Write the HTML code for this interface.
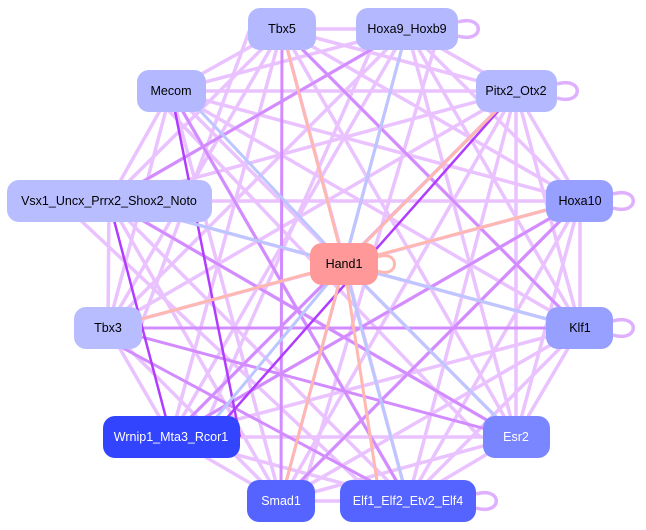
<!DOCTYPE html>
<html><head><meta charset="utf-8"><style>
html,body{margin:0;padding:0;background:#fff;width:646px;height:530px;overflow:hidden}
svg{display:block}
text{font-family:"Liberation Sans",sans-serif;font-size:12.5px;text-anchor:middle;dominant-baseline:central}
</style></head><body>
<svg width="646" height="530" viewBox="0 0 646 530">
<g stroke="#e9c2ff" stroke-width="3.5" fill="none">
<line x1="282" y1="29" x2="171" y2="91"/><line x1="282" y1="29" x2="109" y2="201"/><line x1="282" y1="29" x2="108" y2="328"/><line x1="282" y1="29" x2="516" y2="91"/><line x1="282" y1="29" x2="407" y2="29"/><line x1="282" y1="29" x2="580" y2="201"/><line x1="282" y1="29" x2="580" y2="328"/><line x1="282" y1="29" x2="516" y2="437"/><line x1="282" y1="29" x2="408" y2="501"/><line x1="282" y1="29" x2="171" y2="437"/>
<line x1="407" y1="29" x2="171" y2="91"/><line x1="407" y1="29" x2="109" y2="201"/><line x1="407" y1="29" x2="516" y2="91"/><line x1="407" y1="29" x2="108" y2="328"/><line x1="407" y1="29" x2="171" y2="437"/><line x1="407" y1="29" x2="516" y2="437"/><line x1="407" y1="29" x2="580" y2="328"/><line x1="407" y1="29" x2="580" y2="201"/>
<line x1="171" y1="91" x2="516" y2="91"/><line x1="171" y1="91" x2="109" y2="201"/><line x1="171" y1="91" x2="580" y2="201"/><line x1="171" y1="91" x2="580" y2="328"/><line x1="171" y1="91" x2="516" y2="437"/><line x1="171" y1="91" x2="408" y2="501"/><line x1="171" y1="91" x2="281" y2="501"/><line x1="171" y1="91" x2="108" y2="328"/>
<line x1="516" y1="91" x2="109" y2="201"/><line x1="516" y1="91" x2="580" y2="201"/><line x1="516" y1="91" x2="108" y2="328"/><line x1="516" y1="91" x2="171" y2="437"/><line x1="516" y1="91" x2="281" y2="501"/><line x1="516" y1="91" x2="408" y2="501"/><line x1="516" y1="91" x2="516" y2="437"/><line x1="516" y1="91" x2="580" y2="328"/>
<line x1="109" y1="201" x2="580" y2="201"/><line x1="109" y1="201" x2="580" y2="328"/><line x1="109" y1="201" x2="516" y2="437"/><line x1="109" y1="201" x2="408" y2="501"/><line x1="109" y1="201" x2="281" y2="501"/><line x1="109" y1="201" x2="108" y2="328"/>
<line x1="580" y1="201" x2="108" y2="328"/><line x1="580" y1="201" x2="171" y2="437"/><line x1="580" y1="201" x2="281" y2="501"/><line x1="580" y1="201" x2="408" y2="501"/><line x1="580" y1="201" x2="580" y2="328"/><line x1="580" y1="201" x2="516" y2="437"/>
<line x1="108" y1="328" x2="171" y2="437"/><line x1="108" y1="328" x2="281" y2="501"/><line x1="580" y1="328" x2="171" y2="437"/><line x1="580" y1="328" x2="281" y2="501"/><line x1="580" y1="328" x2="408" y2="501"/><line x1="580" y1="328" x2="516" y2="437"/>
<line x1="171" y1="437" x2="516" y2="437"/><line x1="171" y1="437" x2="281" y2="501"/><line x1="171" y1="437" x2="408" y2="501"/><line x1="516" y1="437" x2="408" y2="501"/><line x1="516" y1="437" x2="281" y2="501"/><line x1="281" y1="501" x2="408" y2="501"/>
<line x1="250" y1="29" x2="140" y2="328"/><line x1="380" y1="29" x2="200" y2="437"/><line x1="440" y1="29" x2="300" y2="501"/><line x1="150" y1="91" x2="480" y2="437"/><line x1="60" y1="201" x2="380" y2="501"/>
</g>
<g stroke="#d38cff" stroke-width="3" fill="none">
<line x1="108" y1="328" x2="580" y2="328"/><line x1="108" y1="328" x2="516" y2="437"/><line x1="108" y1="340" x2="408" y2="501"/><line x1="282" y1="29" x2="281" y2="501"/><line x1="407" y1="29" x2="281" y2="501"/><line x1="580" y1="201" x2="171" y2="437"/><line x1="109" y1="201" x2="516" y2="437"/><line x1="516" y1="91" x2="171" y2="437"/><line x1="171" y1="91" x2="408" y2="501"/><line x1="282" y1="29" x2="580" y2="328"/><line x1="407" y1="29" x2="109" y2="201"/><line x1="580" y1="201" x2="281" y2="501"/>
</g>
<g stroke="#b03cff" stroke-width="2.5" fill="none">
<line x1="109" y1="201" x2="171" y2="437"/><line x1="171" y1="91" x2="240" y2="437"/><line x1="516" y1="91" x2="210" y2="437"/>
</g>
<g stroke="#bcc6ff" stroke-width="3" fill="none">
<line x1="580" y1="328" x2="344" y2="264"/><line x1="516" y1="437" x2="344" y2="264"/><line x1="200" y1="437" x2="344" y2="264"/><line x1="109" y1="201" x2="344" y2="264"/><line x1="408" y1="501" x2="344" y2="264"/><line x1="344" y1="264" x2="407" y2="29"/><line x1="344" y1="264" x2="190" y2="100"/>
</g>
<g stroke="#ffb8b0" stroke-width="3" fill="none">
<line x1="344" y1="264" x2="108" y2="328"/><line x1="344" y1="264" x2="580" y2="201"/><line x1="344" y1="264" x2="516" y2="91"/><line x1="344" y1="264" x2="282" y2="29"/><line x1="344" y1="264" x2="281" y2="501"/><line x1="344" y1="264" x2="380" y2="501"/>
</g>
<g stroke="#dfb0ff" stroke-width="3.5" fill="none">
<path d="M458,22 C485,14 485,44 458,36"/><path d="M557,84 C584,76 584,106 557,98"/><path d="M613,194 C640,186 640,216 613,208"/><path d="M613,321 C640,313 640,343 613,335"/><path d="M476,494 C503,486 503,516 476,508"/>
</g>
<path d="M378,257 C400,249 400,279 378,271" stroke="#ffb8b0" stroke-width="3" fill="none"/>
<g>
<rect x="248" y="8" width="68" height="42" rx="12" fill="#b3b8ff"/><text x="282" y="29">Tbx5</text>
<rect x="356" y="8" width="102" height="42" rx="12" fill="#b3b8ff"/><text x="407" y="29">Hoxa9_Hoxb9</text>
<rect x="476" y="70" width="81" height="42" rx="12" fill="#b3b8ff"/><text x="516" y="91">Pitx2_Otx2</text>
<rect x="137" y="70" width="69" height="42" rx="12" fill="#b3b8ff"/><text x="171" y="91">Mecom</text>
<rect x="7" y="180" width="205" height="42" rx="12" fill="#b8bdff"/><text x="109" y="201">Vsx1_Uncx_Prrx2_Shox2_Noto</text>
<rect x="546" y="180" width="67" height="42" rx="12" fill="#979fff"/><text x="580" y="201">Hoxa10</text>
<rect x="310" y="243" width="68" height="42" rx="12" fill="#ff9999"/><text x="344" y="264">Hand1</text>
<rect x="74" y="307" width="68" height="42" rx="12" fill="#b8bdff"/><text x="108" y="328">Tbx3</text>
<rect x="546" y="307" width="67" height="42" rx="12" fill="#979fff"/><text x="580" y="328">Klf1</text>
<rect x="103" y="416" width="137" height="42" rx="12" fill="#3344ff"/><text x="171" y="437" fill="#fff">Wrnip1_Mta3_Rcor1</text>
<rect x="483" y="416" width="67" height="42" rx="12" fill="#7a86ff"/><text x="516" y="437" fill="#fff">Esr2</text>
<rect x="247" y="480" width="68" height="42" rx="12" fill="#5563ff"/><text x="281" y="501" fill="#fff">Smad1</text>
<rect x="340" y="480" width="136" height="42" rx="12" fill="#5563ff"/><text x="408" y="501" fill="#fff">Elf1_Elf2_Etv2_Elf4</text>
</g>
</svg>
</body></html>
